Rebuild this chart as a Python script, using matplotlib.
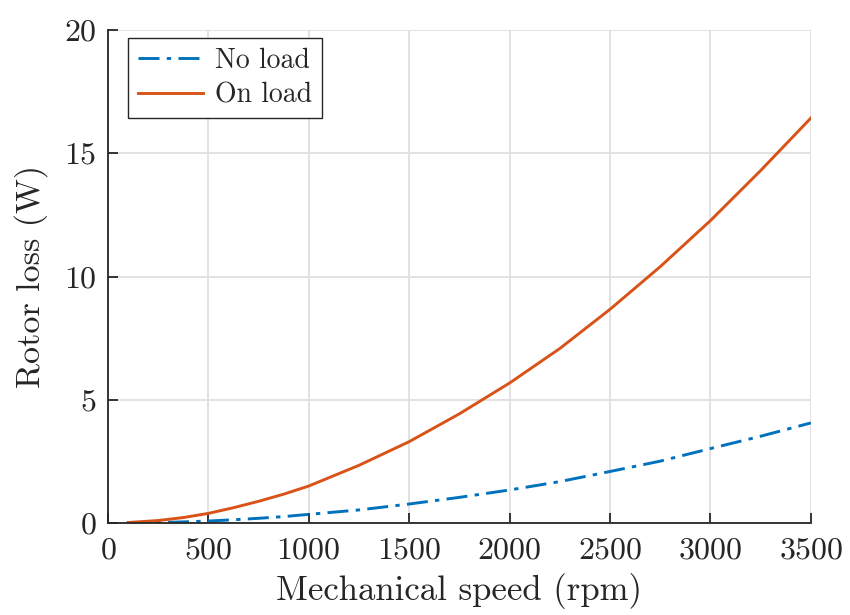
import matplotlib
matplotlib.use("Agg")
import matplotlib.pyplot as plt

plt.rcParams["font.family"] = "cmr10"
plt.rcParams["mathtext.fontset"] = "cm"
plt.rcParams["axes.formatter.use_mathtext"] = True

# Rotor loss versus mechanical speed
speed_rpm = [100, 250, 375, 500, 625, 750, 875, 1000, 1250, 1500, 1750,
             2000, 2250, 2500, 2750, 3000, 3250, 3500]
loss_no_load = [0.003, 0.02, 0.045, 0.08, 0.13, 0.19, 0.26, 0.35, 0.53,
                0.77, 1.04, 1.34, 1.68, 2.09, 2.51, 3.02, 3.52, 4.06]
loss_on_load = [0.02, 0.10, 0.22, 0.39, 0.62, 0.88, 1.17, 1.50, 2.34,
                3.30, 4.43, 5.68, 7.08, 8.67, 10.40, 12.27, 14.30, 16.43]

x_ticks = [0, 500, 1000, 1500, 2000, 2500, 3000, 3500]
y_ticks = [0, 5, 10, 15, 20]

blue = "#0072BD"
orange = "#D95319"
axis_color = "#262626"

fig = plt.figure(figsize=(8.5, 6.15), dpi=100)
ax = fig.add_axes([0.127, 0.1496, 0.827, 0.8016])

ax.plot(speed_rpm, loss_no_load, color=blue, lw=2.1,
        dashes=(7.2, 2.5, 1.5, 2.5), label="No load")
ax.plot(speed_rpm, loss_on_load, color=orange, lw=2.1, label="On load")

ax.set_xlim(0, 3500)
ax.set_ylim(0, 20)
ax.set_xticks(x_ticks)
ax.set_yticks(y_ticks)

ax.grid(True, color="#DFDFDF", lw=1.3)
ax.set_axisbelow(True)

for side in ("top", "right"):
    ax.spines[side].set_visible(False)
for side in ("left", "bottom"):
    ax.spines[side].set_color(axis_color)
    ax.spines[side].set_linewidth(1.3)

ax.tick_params(direction="in", length=7, width=1.3, color=axis_color,
               labelsize=23, labelcolor=axis_color)
ax.tick_params(axis="x", pad=10)
ax.tick_params(axis="y", pad=8)

ax.set_xlabel("Mechanical speed (rpm)", fontsize=25, color=axis_color, labelpad=6)
ax.set_ylabel("Rotor loss (W)", fontsize=24.5, color=axis_color, labelpad=12)

leg = ax.legend(loc="upper left", bbox_to_anchor=(0.0285, 0.984),
                borderaxespad=0, fontsize=20, handlelength=2.35,
                handletextpad=0.45, borderpad=0.35, labelspacing=0.3,
                fancybox=False, framealpha=1, edgecolor="#262626")
leg.get_frame().set_linewidth(1.0)
for t in leg.get_texts():
    t.set_color(axis_color)

fig.savefig("out.png", dpi=100)
